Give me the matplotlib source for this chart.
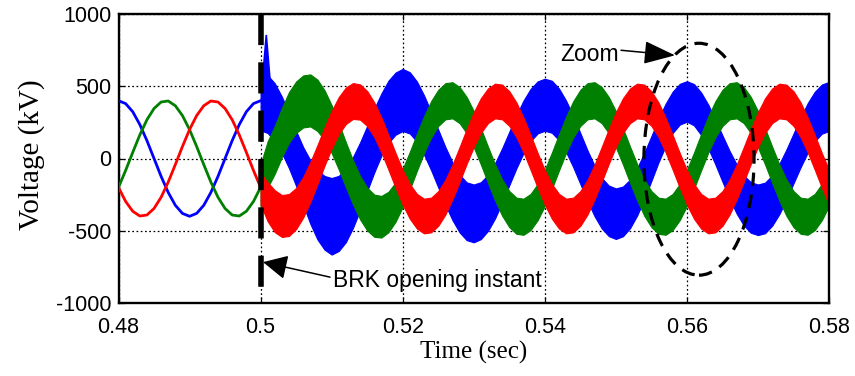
import numpy as np
import matplotlib
matplotlib.use("Agg")
import matplotlib.pyplot as plt
from matplotlib.patches import Ellipse

plt.rcParams['axes.unicode_minus'] = False
plt.rcParams['font.family'] = ['Liberation Sans', 'DejaVu Sans']

# ---------------- data (1 ms samples) ----------------
# before breaker opening: 0.480 ... 0.500 s
blue_pre = [400, 380, 324, 235, 124, 0, -124, -235, -324, -380, -400, -380, -324,
            -235, -124, 0, 124, 235, 324, 380, 400]
green_pre = [-200, -83, 42, 163, 268, 346, 391, 398, 365, 297, 200, 83, -42, -163,
             -268, -346, -391, -398, -365, -297, -200]
red_pre = [-200, -297, -365, -398, -391, -346, -268, -163, -42, 83, 200, 297, 365,
           398, 391, 346, 268, 163, 42, -83, -200]

# after breaker opening: 0.500 ... 0.580 s  (centre of noisy band, band half-width)
blue_post = [395, 376, 320, 232, 122, 0, -122, -232, -320, -376,
             -400, -380, -324, -235, -124, 0, 124, 235, 324, 380,
             405, 385, 325, 232, 121, 0, -120, -226, -311, -365,
             -380, -361, -307, -223, -117, 0, 115, 219, 301, 354,
             372, 358, 305, 222, 117, 0, -118, -224, -308, -362,
             -382, -366, -314, -230, -121, 0, 123, 233, 320, 376,
             395, 372, 310, 222, 115, 0, -112, -211, -290, -339,
             -355, -342, -291, -212, -111, 0, 111, 212, 291, 342,
             360]
blue_half = [200, 200, 200, 195, 190, 190, 200, 220, 240, 255,
             265, 260, 255, 245, 235, 225, 220, 215, 215, 215,
             215, 212, 208, 205, 202, 200, 200, 200, 200, 200,
             200, 197, 194, 191, 188, 185, 183, 182, 181, 180,
             180, 180, 179, 178, 177, 176, 175, 175, 175, 175,
             175, 172, 168, 164, 160, 155, 150, 146, 143, 141,
             140, 143, 147, 151, 155, 160, 165, 170, 173, 175,
             175, 175, 174, 174, 173, 172, 172, 171, 171, 170,
             170]
green_post = [-190, -40, 60, 180, 285, 355, 395, 402, 368, 300,
              203, 84, -43, -165, -271, -350, -396, -403, -370, -301,
              -203, -84, 43, 165, 271, 350, 396, 403, 370, 301,
              203, 84, -43, -165, -271, -350, -396, -403, -370, -301,
              -203, -84, 43, 165, 271, 350, 396, 403, 370, 301,
              203, 84, -43, -165, -271, -350, -396, -403, -370, -301,
              -203, -84, 43, 165, 271, 350, 396, 403, 370, 301,
              203, 84, -43, -165, -271, -350, -396, -403, -370, -301,
              -203]
green_half = [150, 160, 165, 170, 175, 178, 180, 180, 178, 172,
              165, 160, 155, 152, 150, 148, 146, 144, 140, 136,
              132, 130, 128, 127, 126, 125, 125, 125, 125, 125,
              125, 125, 125, 125, 125, 125, 125, 125, 125, 125,
              125, 125, 125, 125, 125, 125, 125, 125, 125, 125,
              125, 125, 125, 125, 125, 125, 125, 125, 125, 125,
              125, 125, 125, 125, 125, 125, 125, 125, 125, 125,
              125, 125, 125, 125, 125, 125, 125, 125, 125, 125,
              125]
red_post = [-210, -300, -365, -398, -391, -346, -268, -163, -42, 83,
            200, 297, 365, 398, 391, 346, 268, 163, 42, -83,
            -200, -297, -365, -398, -391, -346, -268, -163, -42, 83,
            200, 297, 365, 398, 391, 346, 268, 163, 42, -83,
            -200, -297, -365, -398, -391, -346, -268, -163, -42, 83,
            200, 297, 365, 398, 391, 346, 268, 163, 42, -83,
            -200, -297, -365, -398, -391, -346, -268, -163, -42, 83,
            200, 297, 365, 398, 391, 346, 268, 163, 42, -83,
            -200]
red_half = [110, 135, 145, 145, 145, 142, 140, 138, 135, 132,
            130, 128, 126, 124, 122, 121, 120, 120, 120, 120,
            120, 120, 120, 120, 120, 120, 120, 120, 120, 120,
            120, 120, 120, 120, 120, 120, 120, 120, 120, 120,
            120, 120, 120, 120, 120, 120, 120, 120, 120, 120,
            120, 120, 120, 120, 120, 120, 120, 120, 120, 120,
            120, 120, 120, 120, 120, 120, 120, 120, 120, 120,
            120, 120, 120, 120, 120, 120, 120, 120, 120, 120,
            120]

# switching spike on phase "blue"
spike_t = [0.5003, 0.5008, 0.5013]
spike_v = [560, 855, 560]

x_ticks = [0.48, 0.50, 0.52, 0.54, 0.56, 0.58]
x_tick_labels = ["0.48", "0.5", "0.52", "0.54", "0.56", "0.58"]
y_ticks = [-1000, -500, 0, 500, 1000]
y_tick_labels = ["-1000", "-500", "0", "500", "1000"]

t_pre = np.linspace(0.480, 0.500, len(blue_pre))
t_post = np.linspace(0.500, 0.580, len(blue_post))

BLUE, GREEN, RED = (0, 0, 1), (0, 0.5, 0), (1, 0, 0)

# ---------------- figure ----------------
fig = plt.figure(figsize=(8.55, 3.76), dpi=100)
ax = fig.add_axes([118.5 / 855, 1 - 303 / 376, 710.5 / 855, 289 / 376])

for (c, h, col) in [(blue_post, blue_half, BLUE), (green_post, green_half, GREEN),
                    (red_post, red_half, RED)]:
    c = np.asarray(c, float)
    h = np.asarray(h, float)
    ax.fill_between(t_post, c - h, c + h, color=col, lw=0.8, edgecolor=col, zorder=2)
    if col == BLUE:
        ax.fill(spike_t, spike_v, color=BLUE, lw=1.2, zorder=2)

for v, col in [(blue_pre, BLUE), (green_pre, GREEN), (red_pre, RED)]:
    ax.plot(t_pre, v, color=col, lw=2.0, zorder=3)

# breaker opening instant
ax.plot([0.5, 0.5], [1000, -1000], color='k', lw=4.0, ls=(0, (5.6, 3.1)),
        dash_capstyle='butt', zorder=5, clip_on=False)

# zoom ellipse
ax.add_patch(Ellipse((0.5617, -5), width=0.0155, height=1605, fill=False,
                     ec='k', lw=2.3, ls=(0, (4.2, 2.8)), zorder=6))

# annotations
ax.text(0.5102, -891, "BRK opening instant", fontsize=16.5, ha='left', va='baseline',
        zorder=7)
ax.annotate('', xy=(0.50034, -717), xytext=(0.50977, -821),
            arrowprops=dict(arrowstyle='-|>,head_length=1.0,head_width=0.5',
                            mutation_scale=15, lw=1.1, color='k',
                            shrinkA=0, shrinkB=0), zorder=7)
ax.text(0.54214, 672, "Zoom", fontsize=16.5, ha='left', va='baseline', zorder=7)
ax.annotate('', xy=(0.55833, 714), xytext=(0.55073, 749),
            arrowprops=dict(arrowstyle='-|>,head_length=1.3,head_width=0.48',
                            mutation_scale=15, lw=1.1, color='k',
                            shrinkA=0, shrinkB=0), zorder=7)

ax.set_xlim(0.48, 0.58)
ax.set_ylim(-1000, 1000)
ax.set_xticks(x_ticks)
ax.set_xticklabels(x_tick_labels)
ax.set_yticks(y_ticks)
ax.set_yticklabels(y_tick_labels)
ax.tick_params(direction='in', length=4, width=0.9, top=True, right=True,
               labelsize=15.5, colors='k')
ax.tick_params(axis='x', pad=10)
ax.tick_params(axis='y', pad=5)
for s in ax.spines.values():
    s.set_linewidth(1.7)
    s.set_color('k')

ax.set_axisbelow(True)
ax.grid(True, color='k', lw=0.9, ls=(0, (1.4, 2.0)))

fig.text(32 / 855, 1 - 155 / 376, "Voltage (kV)", rotation=90, ha='center',
         va='center', fontsize=21, family=['Liberation Serif', 'DejaVu Serif'])
fig.text(474 / 855, 1 - 352 / 376, "Time (sec)", ha='center', va='center',
         fontsize=18, family=['Liberation Serif', 'DejaVu Serif'])

fig.savefig("out.png", dpi=100)
